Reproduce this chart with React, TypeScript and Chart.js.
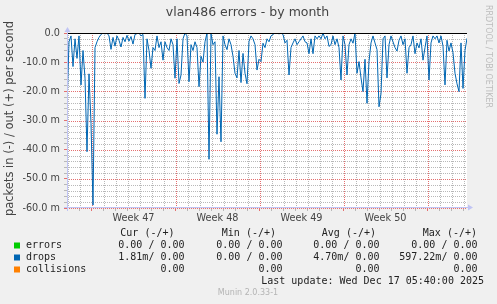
import React, { useEffect, useRef } from 'react';
import { Chart, registerables } from 'chart.js';

Chart.register(...registerables);

const TITLE = 'vlan486 errors - by month';
const Y_LABEL = 'packets in (-) / out (+) per second';
const WATERMARK = 'RRDTOOL / TOBI OETIKER';

// time axis in hours from the left edge of the graph
const STEP_HOURS = 4;
const SPAN_HOURS = 800;
const FIRST_DAY_HOUR = 1;
const WEEK_START_HOURS = [49, 217, 385, 553, 721];
const WEEK_LABELS = ['Week 47', 'Week 48', 'Week 49', 'Week 50'];
const WEEK_LABEL_HOURS = [133, 301, 469, 637];

const Y_MIN = -60;
const Y_MAX = 0;
const Y_GRID_STEP = 2;
const Y_LABEL_STEP = 10;

// drops "in" (negative side), milli-packets per second, one value every 4 hours
const DROPS_IN = [
  -25, -3, -1, -11.5, -2, -8.7, -1, -17.8, -6, -15.5,
  -40.7, -14, -31, -59, -5, -3, -1.5, -0.5, 0, -0.3,
  0, -1, -5.6, -1.5, -4.5, -1, -2.5, -4.8, -1.5, -3,
  -0.8, -2.8, -1.2, -3.8, -0.5, -0.2, 0, -1, -0.5, -22.4,
  -2, -6, -12.1, -5, -6, -1, -5, -3, -9.3, -3,
  -5, -6, -2, -4, -15.5, -2, -17.3, -14.4, -2, 0,
  -1, -16.7, -4, -6, -3, -5, -18.4, -8, -10, -3,
  0, -43.3, -0.3, -4, -3, -34.7, -15, -37.3, -1, -4,
  -5.7, -2, -4, -8, -13.8, -15.4, -6, -17, -7, -13.8,
  -17.4, -2.9, -1, -2, -4, -12.7, -9, -9.8, -3.5, -5,
  -2, -3, -1, -0.5, 0, 0, -0.3, 0, -0.5, -3.4,
  -2.5, -14.4, -5, -3.4, -2, -4, -3, -2, -1, -3,
  -3.4, -7.1, -2, -7.1, -1, -2, -1, -2, 0, -2,
  -1, -4.6, -4, -1, -4, -2, -5, -16.1, -1, -4,
  -14.4, -4, -2, -3.5, 0, -13.8, -9.8, -15.4, -20.1, -9,
  -24.1, -9.8, -3.4, -1, -3.4, -5.7, -25.3, -20.8, -2, -1,
  -15.4, -4, -1, -3, -5, -6.2, -2.5, -1, -4, -2,
  -13.8, -5, -4, -1, -7.1, -3.4, -5.1, -2, -9.3, -5,
  -1, -16.1, -3.4, -1, -2, -1, -3.4, -1, -4.5, -17.8,
  -2.5, -6.2, -3.4, -6.8, -13.8, -17.4, -20.1, -3.4, -19, -6,
  -1.81,
];

const LEGEND_NAMES = ['errors', 'drops', 'collisions'];
const LEGEND_COLORS = ['#00CC00', '#0066B3', '#FF8000'];
const COLUMN_HEADERS = ['Cur (-/+)', 'Min (-/+)', 'Avg (-/+)', 'Max (-/+)'];
const CUR_VALUES = ['0.00 / 0.00', '1.81m/ 0.00', '0.00'];
const MIN_VALUES = ['0.00 / 0.00', '0.00 / 0.00', '0.00'];
const AVG_VALUES = ['0.00 / 0.00', '4.70m/ 0.00', '0.00'];
const MAX_VALUES = ['0.00 / 0.00', '597.22m/ 0.00', '0.00'];
const LAST_UPDATE = 'Last update: Wed Dec 17 05:40:00 2025';
const VERSION = 'Munin 2.0.33-1';

const GRID_GRAY = '#B8B8B8';
const GRID_RED = '#E47070';
const AXIS_COLOR = '#C0C4F4';
const SANS = '"DejaVu Sans", sans-serif';
const MONO = '"DejaVu Sans Mono", monospace';

export default function App() {
  const ref = useRef<HTMLCanvasElement>(null);

  useEffect(() => {
    document.body.style.margin = '0';
    document.body.style.background = '#F0F0F0';
    const canvas = ref.current;
    if (!canvas) return;

    const points = DROPS_IN.map((v, i) => ({ x: i * STEP_HOURS, y: v }));
    const dayHours: number[] = [];
    for (let h = FIRST_DAY_HOUR; h < SPAN_HOURS; h += 24) dayHours.push(h);
    const xTicks = [...dayHours, ...WEEK_LABEL_HOURS].sort((a, b) => a - b);
    const yTicks: number[] = [];
    for (let v = Y_MIN; v <= Y_MAX; v += Y_GRID_STEP) yTicks.push(v);

    const xColorFor = (v: number) => {
      if (WEEK_LABEL_HOURS.includes(v)) return 'rgba(0,0,0,0)';
      if (WEEK_START_HOURS.includes(v)) return GRID_RED;
      return GRID_GRAY;
    };
    const yColorFor = (v: number) => (v % Y_LABEL_STEP === 0 ? GRID_RED : GRID_GRAY);

    const background = {
      id: 'background',
      beforeDraw(chart: any) {
        const { ctx, chartArea } = chart;
        ctx.save();
        ctx.fillStyle = '#F0F0F0';
        ctx.fillRect(0, 0, chart.width, chart.height);
        ctx.fillStyle = '#FFFFFF';
        ctx.fillRect(chartArea.left, chartArea.top, chartArea.right - chartArea.left, chartArea.bottom - chartArea.top);
        ctx.restore();
      },
    };

    // dotted grid drawn from the library's own scales
    const dottedGrid = {
      id: 'dottedGrid',
      beforeDatasetsDraw(chart: any) {
        const { ctx, chartArea, scales } = chart;
        ctx.save();
        ctx.lineWidth = 1;
        ctx.setLineDash([1, 1]);
        scales.y.ticks.forEach((t: any) => {
          if (t.value === 0) return;
          const y = Math.round(scales.y.getPixelForValue(t.value)) + 0.5;
          ctx.strokeStyle = yColorFor(t.value);
          ctx.beginPath();
          ctx.moveTo(chartArea.left, y);
          ctx.lineTo(chartArea.right, y);
          ctx.stroke();
        });
        scales.x.ticks.forEach((t: any) => {
          const c = xColorFor(t.value);
          if (c === 'rgba(0,0,0,0)') return;
          const x = Math.round(scales.x.getPixelForValue(t.value)) + 0.5;
          ctx.strokeStyle = c;
          ctx.beginPath();
          ctx.moveTo(x, chartArea.top);
          ctx.lineTo(x, chartArea.bottom);
          ctx.stroke();
        });
        ctx.restore();
      },
    };

    const decor = {
      id: 'decor',
      afterDatasetsDraw(chart: any) {
        const { ctx, chartArea, scales } = chart;
        const y0 = Math.round(scales.y.getPixelForValue(0)) + 0.5;
        ctx.save();
        ctx.strokeStyle = '#000000';
        ctx.lineWidth = 1;
        ctx.beginPath();
        ctx.moveTo(chartArea.left, y0);
        ctx.lineTo(chartArea.right, y0);
        ctx.stroke();
        ctx.restore();
      },
      afterDraw(chart: any) {
        const { ctx, chartArea } = chart;
        const L = chartArea.left + 0.5;
        const B = chartArea.bottom - 0.5;
        ctx.save();
        ctx.strokeStyle = AXIS_COLOR;
        ctx.fillStyle = AXIS_COLOR;
        ctx.lineWidth = 1;
        ctx.beginPath();
        ctx.moveTo(chartArea.left - 3, B);
        ctx.lineTo(chartArea.right + 2, B);
        ctx.moveTo(L, chartArea.bottom + 3);
        ctx.lineTo(L, chartArea.top - 3);
        ctx.stroke();
        ctx.beginPath();
        ctx.moveTo(chartArea.right + 1, B - 3);
        ctx.lineTo(chartArea.right + 6, B);
        ctx.lineTo(chartArea.right + 1, B + 3);
        ctx.closePath();
        ctx.fill();
        ctx.beginPath();
        ctx.moveTo(L - 3, chartArea.top - 1);
        ctx.lineTo(L, chartArea.top - 6);
        ctx.lineTo(L + 3, chartArea.top - 1);
        ctx.closePath();
        ctx.fill();

        // title
        ctx.fillStyle = '#444444';
        ctx.font = `12.5px ${SANS}`;
        ctx.textAlign = 'center';
        ctx.textBaseline = 'middle';
        ctx.fillText(TITLE, 247.5, 13);

        // y label
        ctx.save();
        ctx.translate(10, (chartArea.top + chartArea.bottom) / 2 - 2);
        ctx.rotate(-Math.PI / 2);
        ctx.font = `11.5px ${SANS}`;
        ctx.fillText(Y_LABEL, 0, 0);
        ctx.restore();

        // watermark
        ctx.save();
        ctx.translate(488.5, 5);
        ctx.rotate(Math.PI / 2);
        ctx.fillStyle = '#BDBDBD';
        ctx.font = `8px ${SANS}`;
        ctx.textAlign = 'left';
        ctx.fillText(WATERMARK, 0, 0);
        ctx.restore();

        // legend table
        ctx.font = `10px ${MONO}`;
        ctx.fillStyle = '#222222';
        ctx.textBaseline = 'middle';
        const headerRight = [174.5, 276, 376, 477];
        const colRight = [184.5, 282.5, 379.5, 477.5];
        ctx.textAlign = 'right';
        COLUMN_HEADERS.forEach((h, i) => ctx.fillText(h, headerRight[i], 233.5));
        const rows = [245.5, 257.5, 269.5];
        const cols = [CUR_VALUES, MIN_VALUES, AVG_VALUES, MAX_VALUES];
        LEGEND_NAMES.forEach((name, r) => {
          ctx.fillStyle = LEGEND_COLORS[r];
          ctx.fillRect(14, rows[r] - 3, 6, 6);
          ctx.fillStyle = '#222222';
          ctx.textAlign = 'left';
          ctx.fillText(name, 26, rows[r]);
          ctx.textAlign = 'right';
          cols.forEach((col, c) => ctx.fillText(col[r], colRight[c], rows[r]));
        });
        ctx.textAlign = 'right';
        ctx.fillText(LAST_UPDATE, 484, 281.7);
        ctx.textAlign = 'center';
        ctx.fillStyle = '#B4B4B4';
        ctx.font = `8px ${SANS}`;
        ctx.fillText(VERSION, 248, 293);
        ctx.restore();
      },
    };

    const chart = new Chart(canvas, {
      type: 'line',
      data: {
        datasets: [
          {
            label: 'drops',
            data: points,
            borderColor: '#0066B3',
            borderWidth: 1,
            pointRadius: 0,
            tension: 0,
            fill: false,
          },
        ],
      },
      options: {
        animation: false,
        responsive: false,
        devicePixelRatio: 1,
        layout: { padding: { top: 33, right: 30, bottom: 0, left: 0 } },
        plugins: {
          legend: { display: false },
          tooltip: { enabled: false },
          title: { display: false },
        },
        scales: {
          x: {
            type: 'linear',
            min: 0,
            max: SPAN_HOURS,
            afterBuildTicks: (s: any) => {
              s.ticks = xTicks.map((v) => ({ value: v }));
            },
            afterFit: (s: any) => {
              s.height = 96;
            },
            border: { display: false },
            grid: {
              drawOnChartArea: false,
              color: (c: any) => xColorFor(c.tick ? c.tick.value : -1),
              tickLength: 3,
              lineWidth: 1,
            },
            ticks: {
              autoSkip: false,
              maxRotation: 0,
              padding: 2,
              color: '#444444',
              font: { family: SANS, size: 9.7 },
              callback: (v: any) => {
                const i = WEEK_LABEL_HOURS.indexOf(Number(v));
                return i >= 0 ? WEEK_LABELS[i] : '';
              },
            },
          },
          y: {
            min: Y_MIN,
            max: Y_MAX,
            afterBuildTicks: (s: any) => {
              s.ticks = yTicks.map((v) => ({ value: v }));
            },
            afterFit: (s: any) => {
              s.width = 67;
            },
            border: { display: false },
            grid: {
              drawOnChartArea: false,
              color: (c: any) => yColorFor(c.tick ? c.tick.value : 1),
              tickLength: 3,
              lineWidth: 1,
            },
            ticks: {
              autoSkip: false,
              padding: 4,
              color: '#444444',
              font: { family: SANS, size: 9.7 },
              callback: (v: any) => {
                const n = Number(v);
                if (n === 0) return '0.0';
                if (n % Y_LABEL_STEP !== 0) return '';
                return `${n.toFixed(1)} m`;
              },
            },
          },
        },
      },
      plugins: [background, dottedGrid, decor],
    });

    return () => chart.destroy();
  }, []);

  return <canvas ref={ref} width={497} height={304} style={{ display: 'block' }} />;
}
